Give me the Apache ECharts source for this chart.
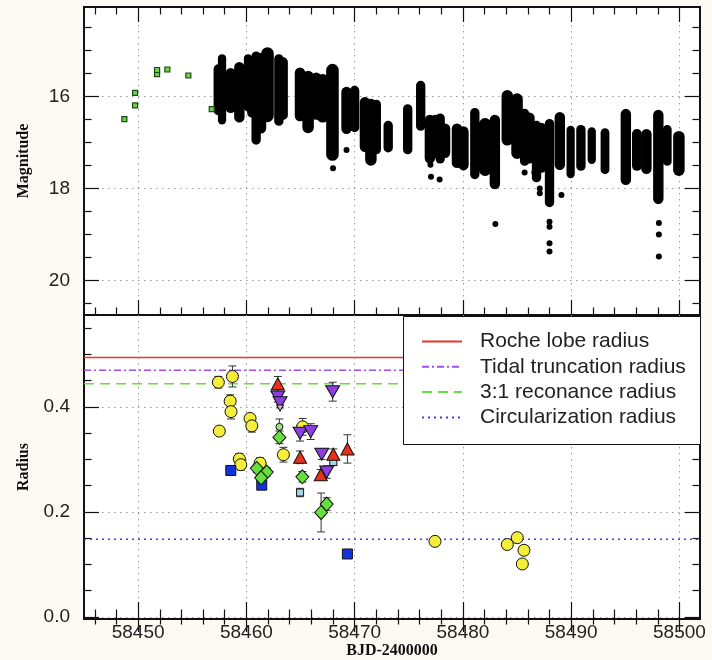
<!DOCTYPE html>
<html><head><meta charset="utf-8">
<script src="https://cdn.jsdelivr.net/npm/echarts@6/dist/echarts.min.js"></script>
<style>html,body{margin:0;padding:0;background:#fdfaf4;}#c{width:712px;height:660px;}</style>
</head><body><div id="c"></div>
<script>
// ---------- axis ticks / labels ----------
const xMajorTicks = [58450, 58460, 58470, 58480, 58490, 58500];
const xMinorTicks = [58446, 58448, 58452, 58454, 58456, 58458, 58462, 58464, 58466, 58468, 58472, 58474, 58476, 58478, 58482, 58484, 58486, 58488, 58492, 58494, 58496, 58498];
const magMajorTicks = [16, 18, 20];
const magMinorTicks = [14.5, 15, 15.5, 16.5, 17, 17.5, 18.5, 19, 19.5, 20.5];
const radMajorTicks = [0, 0.2, 0.4];
const radMinorTicks = [0.05, 0.1, 0.15, 0.25, 0.3, 0.35, 0.45, 0.5, 0.55];

// ---------- top panel: light curve ----------
// ground-based early points (green squares): [BJD, mag]
const earlyMag = [[58448.73, 16.49], [58449.72, 16.19], [58449.72, 15.92], [58451.75, 15.51], [58451.75, 15.42], [58452.70, 15.41], [58454.64, 15.54], [58456.80, 16.27]];
// dense nightly coverage read as columns: [BJD start, BJD end, brightest mag, faintest mag]
const nightColumns = [
  [58457.2, 58457.6, 15.35, 16.35], [58457.6, 58457.9, 15.13, 16.55],
  [58458.3, 58458.8, 15.43, 16.30], [58459.1, 58459.6, 15.30, 16.51],
  [58460.0, 58460.3, 15.13, 16.27], [58460.3, 58460.7, 15.22, 16.40], [58460.7, 58461.1, 15.07, 16.99],
  [58461.1, 58461.6, 15.10, 16.75], [58461.6, 58462.3, 14.98, 16.50],
  [58462.8, 58463.2, 15.13, 16.58], [58463.2, 58463.6, 15.20, 16.45],
  [58464.7, 58465.2, 15.42, 16.48], [58465.4, 58466.0, 15.49, 16.74],
  [58466.2, 58466.7, 15.53, 16.45], [58466.7, 58467.4, 15.56, 16.51], [58467.6, 58468.3, 15.34, 17.34],
  [58469.0, 58469.5, 15.84, 16.76],
  [58469.8, 58470.2, 15.82, 16.72], [58470.7, 58471.2, 16.06, 17.15], [58471.2, 58471.8, 16.10, 17.45],
  [58471.8, 58472.2, 16.12, 17.20], [58472.9, 58473.3, 16.58, 17.16], [58474.7, 58475.1, 16.22, 17.20],
  [58475.9, 58476.3, 15.71, 16.69], [58476.7, 58477.2, 16.45, 17.40], [58477.2, 58477.7, 16.45, 17.28],
  [58477.7, 58478.1, 16.42, 17.40], [58478.1, 58478.6, 16.64, 17.28], [58479.2, 58479.7, 16.64, 17.50],
  [58479.8, 58480.3, 16.70, 17.55],
  [58480.9, 58481.3, 16.30, 17.74], [58481.7, 58482.4, 16.52, 17.67], [58482.7, 58483.2, 16.45, 17.96],
  [58483.8, 58484.4, 15.91, 17.01], [58484.7, 58485.3, 15.98, 17.30], [58485.5, 58485.9, 16.32, 17.45],
  [58485.9, 58486.4, 16.40, 17.40],
  [58486.6, 58487.0, 16.58, 17.81], [58487.0, 58487.5, 16.62, 17.60], [58487.8, 58488.2, 16.54, 18.35],
  [58488.7, 58489.2, 16.39, 17.54],
  [58489.8, 58490.1, 16.69, 17.72], [58490.7, 58491.1, 16.67, 17.56], [58491.75, 58492.05, 16.72, 17.41],
  [58492.95, 58493.3, 16.74, 17.63], [58494.8, 58495.3, 16.32, 17.87], [58495.85, 58496.3, 16.76, 17.56],
  [58496.7, 58497.2, 16.76, 17.63], [58497.8, 58498.3, 16.34, 18.28], [58498.7, 58499.05, 16.67, 17.45],
  [58499.65, 58500.25, 16.80, 17.67]
];
// isolated faint points: [BJD, mag]
const faintPoints = [[58468.0, 17.56], [58469.25, 17.16], [58477.0, 17.48], [58477.05, 17.74], [58477.85, 17.80],
  [58483.0, 18.77], [58485.7, 17.65], [58486.6, 17.65], [58487.1, 18.0], [58487.1, 18.1],
  [58488.0, 18.72], [58488.0, 18.83], [58488.0, 19.19], [58488.0, 19.37], [58489.1, 18.14],
  [58498.1, 18.75], [58498.1, 19.0], [58498.1, 19.48]];

// ---------- bottom panel: radius ----------
// [BJD, radius, error]
const yellowCircles = [[58457.41, 0.447, 0.011], [58458.71, 0.458, 0.020], [58458.50, 0.411, 0.012], [58458.58, 0.391, 0.014],
  [58457.50, 0.354, 0.004], [58460.34, 0.378, 0.008], [58460.50, 0.364, 0.012], [58459.35, 0.301, 0.010],
  [58459.48, 0.290, 0.010], [58461.27, 0.293, 0.010], [58463.42, 0.309, 0.014], [58465.20, 0.362, 0.016],
  [58477.42, 0.144, 0], [58484.10, 0.138, 0], [58485.02, 0.151, 0], [58485.64, 0.127, 0], [58485.49, 0.101, 0]];
const blueSquares = [[58458.56, 0.279, 0], [58461.42, 0.251, 0], [58469.33, 0.120, 0]];
const cyanSquares = [[58464.96, 0.237, 0.008], [58468.03, 0.295, 0.006]];
const paleGreenCircles = [[58463.05, 0.362, 0.015]];
const greenDiamonds = [[58463.05, 0.342, 0.012], [58460.96, 0.283, 0.008], [58461.88, 0.276, 0.008], [58461.36, 0.265, 0.008],
  [58465.17, 0.267, 0.010], [58467.42, 0.215, 0.012], [58466.90, 0.199, 0.037]];
const redTriangles = [[58462.90, 0.444, 0.014], [58464.96, 0.304, 0.012], [58468.03, 0.310, 0.010], [58469.33, 0.320, 0.027], [58466.87, 0.271, 0.010]];
const purpleTriangles = [[58462.90, 0.419, 0.010], [58463.11, 0.408, 0.010], [58464.96, 0.350, 0.015], [58465.94, 0.353, 0.015],
  [58466.96, 0.310, 0.010], [58467.42, 0.276, 0.012], [58467.97, 0.429, 0.018]];
const pinkTriangles = [[58463.11, 0.398, 0]];

const radiusLineNames = ['Roche lobe radius', 'Tidal truncation radius', '3:1 reconance radius', 'Circularization radius'];
const radiusLineValues = [0.494, 0.470, 0.444, 0.148];

const X_MIN = 58445, X_MAX = 58501.9;

const chart = echarts.init(document.getElementById('c'), null, {renderer: 'canvas'});

const tickColor = '#111';
function xAxis(grid, pos, ticks, len, opts) {
  return Object.assign({
    type: 'value', gridIndex: grid, position: pos, min: X_MIN, max: X_MAX,
    axisLine: {show: false}, splitLine: {show: false},
    axisTick: {show: true, inside: true, length: len, customValues: ticks, lineStyle: {color: tickColor, width: 1.2}},
    axisLabel: {show: false}
  }, opts || {});
}
function yAxis(grid, pos, ticks, len, min, max, inverse, opts) {
  return Object.assign({
    type: 'value', gridIndex: grid, position: pos, min: min, max: max, inverse: inverse,
    axisLine: {show: false}, splitLine: {show: false},
    axisTick: {show: true, inside: true, length: len, customValues: ticks, lineStyle: {color: tickColor, width: 1.2}},
    axisLabel: {show: false}
  }, opts || {});
}
const gridLine = {show: true, lineStyle: {color: '#9a9a9a', type: [1.5, 4.5], width: 1}};
const tickLabel = {color: '#222', fontFamily: 'Liberation Sans', fontSize: 19};
const nameStyle = {fontFamily: 'Liberation Serif', fontWeight: 'bold', fontSize: 16, color: '#111'};

const MAG_MIN = 14.05, MAG_MAX = 20.75, R_MIN = -0.004, R_MAX = 0.575;

const xAxes = [
  xAxis(0, 'bottom', xMajorTicks, 15, {splitLine: gridLine}),
  xAxis(0, 'bottom', xMinorTicks, 7.5),
  xAxis(0, 'top', xMajorTicks, 15),
  xAxis(0, 'top', xMinorTicks, 7.5),
  xAxis(1, 'bottom', xMajorTicks, 15, {
    splitLine: gridLine,
    axisLabel: Object.assign({show: true, customValues: xMajorTicks, margin: 4, formatter: v => String(v)}, tickLabel),
    name: 'BJD-2400000', nameLocation: 'middle', nameGap: 21, nameTextStyle: nameStyle
  }),
  xAxis(1, 'bottom', xMinorTicks, 7.5),
  xAxis(1, 'top', xMajorTicks, 15),
  xAxis(1, 'top', xMinorTicks, 7.5)
];
const yAxes = [
  yAxis(0, 'left', magMajorTicks, 15, MAG_MIN, MAG_MAX, true, {
    splitLine: gridLine,
    axisLabel: Object.assign({show: true, customValues: magMajorTicks, margin: 14, formatter: v => String(v)}, tickLabel),
    name: 'Magnitude', nameLocation: 'middle', nameRotate: 90, nameGap: 52, nameTextStyle: nameStyle
  }),
  yAxis(0, 'left', magMinorTicks, 7.5, MAG_MIN, MAG_MAX, true),
  yAxis(0, 'right', magMajorTicks, 15, MAG_MIN, MAG_MAX, true),
  yAxis(0, 'right', magMinorTicks, 7.5, MAG_MIN, MAG_MAX, true),
  yAxis(1, 'left', radMajorTicks, 15, R_MIN, R_MAX, false, {
    splitLine: gridLine,
    axisLabel: Object.assign({show: true, customValues: radMajorTicks, margin: 14, formatter: v => v.toFixed(1)}, tickLabel),
    name: 'Radius', nameLocation: 'middle', nameRotate: 90, nameGap: 52, nameTextStyle: nameStyle
  }),
  yAxis(1, 'left', radMinorTicks, 7.5, R_MIN, R_MAX, false),
  yAxis(1, 'right', radMajorTicks, 15, R_MIN, R_MAX, false),
  yAxis(1, 'right', radMinorTicks, 7.5, R_MIN, R_MAX, false)
];

function errorBarSeries(data) {
  return {
    type: 'custom', xAxisIndex: 4, yAxisIndex: 4, z: 3, silent: true,
    data: data.filter(d => d[2] > 0),
    renderItem: function (params, api) {
      const x = api.value(0), v = api.value(1), e = api.value(2);
      const t = api.coord([x, v + e]), b = api.coord([x, v - e]);
      const c = 4;
      const st = {stroke: '#333', lineWidth: 1};
      return {type: 'group', children: [
        {type: 'line', shape: {x1: t[0], y1: t[1], x2: b[0], y2: b[1]}, style: st},
        {type: 'line', shape: {x1: t[0] - c, y1: t[1], x2: t[0] + c, y2: t[1]}, style: st},
        {type: 'line', shape: {x1: b[0] - c, y1: b[1], x2: b[0] + c, y2: b[1]}, style: st}
      ]};
    }
  };
}
function markerSeries(name, data, symbol, size, color, rotate) {
  return {
    name: name, type: 'scatter', xAxisIndex: 4, yAxisIndex: 4, z: 4, silent: true,
    data: data.map(d => [d[0], d[1]]), symbol: symbol, symbolSize: size, symbolRotate: rotate || 0,
    itemStyle: {color: color, borderColor: '#111', borderWidth: 1, opacity: 1}
  };
}

const lineColors = ['#e8352c', '#9b50e0', '#66dd44', '#3c3cee'];
const lineTypes = ['solid', [7, 3, 2, 3], [10, 6], [2, 4]];
const radiusLines = radiusLineNames.map((n, i) => ({
  name: n, type: 'line', xAxisIndex: 4, yAxisIndex: 4, z: 2, silent: true,
  symbol: 'none', data: [[X_MIN, radiusLineValues[i]], [X_MAX, radiusLineValues[i]]],
  lineStyle: {color: lineColors[i], width: 1.5, type: lineTypes[i]},
  itemStyle: {color: lineColors[i]}
}));

const option = {
  animation: false,
  backgroundColor: '#fdfaf4',
  grid: [
    {left: 84, top: 7, width: 616, height: 308, show: true, backgroundColor: '#ffffff', borderColor: '#111', borderWidth: 2},
    {left: 84, top: 315, width: 616, height: 308, show: true, backgroundColor: '#ffffff', borderColor: '#111', borderWidth: 2}
  ],
  xAxis: xAxes,
  yAxis: yAxes,
  graphic: [{
    type: 'rect', z: 3, left: 403, top: 316, shape: {width: 297, height: 128},
    style: {fill: '#fff', stroke: '#111', lineWidth: 1}
  }],
  legend: {
    data: radiusLineNames, orient: 'vertical', left: 421, top: 331, padding: 0, itemGap: 4.3,
    itemWidth: 40, itemHeight: 14, z: 5, selectedMode: false,
    itemStyle: {color: 'rgba(0,0,0,0)', borderColor: 'rgba(0,0,0,0)', borderWidth: 0, opacity: 0},
    textStyle: {fontFamily: 'Liberation Sans', fontSize: 21, lineHeight: 21, color: '#222', padding: [0, 0, 0, 13]}
  },
  series: [
    {
      type: 'custom', xAxisIndex: 0, yAxisIndex: 0, silent: true, z: 3,
      data: nightColumns, encode: {x: [0, 1], y: [2, 3]},
      renderItem: function (params, api) {
        const p1 = api.coord([api.value(0), api.value(2)]);
        const p2 = api.coord([api.value(1), api.value(3)]);
        const pad = 2.5;
        const x = Math.min(p1[0], p2[0]) - pad, y = Math.min(p1[1], p2[1]) - pad;
        const w = Math.abs(p2[0] - p1[0]) + 2 * pad, h = Math.abs(p2[1] - p1[1]) + 2 * pad;
        return {type: 'rect', shape: {x: x, y: y, width: w, height: h, r: w / 2},
          style: {fill: '#000'}};
      }
    },
    {type: 'scatter', xAxisIndex: 0, yAxisIndex: 0, silent: true, z: 3, data: faintPoints, symbol: 'circle', symbolSize: 6,
      itemStyle: {color: '#000', opacity: 1}},
    {type: 'scatter', xAxisIndex: 0, yAxisIndex: 0, silent: true, z: 3, data: earlyMag, symbol: 'rect', symbolSize: 5,
      itemStyle: {color: '#6fd04a', borderColor: '#1f4a12', borderWidth: 1.2, opacity: 1}},
    ...radiusLines,
    errorBarSeries(yellowCircles), errorBarSeries(cyanSquares), errorBarSeries(paleGreenCircles),
    errorBarSeries(greenDiamonds), errorBarSeries(redTriangles), errorBarSeries(purpleTriangles),
    markerSeries('y', yellowCircles, 'circle', 12, '#f4ee3a'),
    markerSeries('b', blueSquares, 'rect', 10, '#1433dc'),
    markerSeries('c', cyanSquares, 'rect', 7, '#a9d6e6'),
    markerSeries('pg', paleGreenCircles, 'circle', 7, '#9fe08a'),
    markerSeries('g', greenDiamonds, 'diamond', [13, 14], '#66e03c'),
    markerSeries('r', redTriangles, 'triangle', [13, 12], '#e8301c'),
    markerSeries('p', purpleTriangles, 'triangle', [14, 12], '#8c3ee4', 180),
    markerSeries('pk', pinkTriangles, 'triangle', [7, 6], '#f0b0c8', 180)
  ]
};
chart.setOption(option);
</script></body></html>
